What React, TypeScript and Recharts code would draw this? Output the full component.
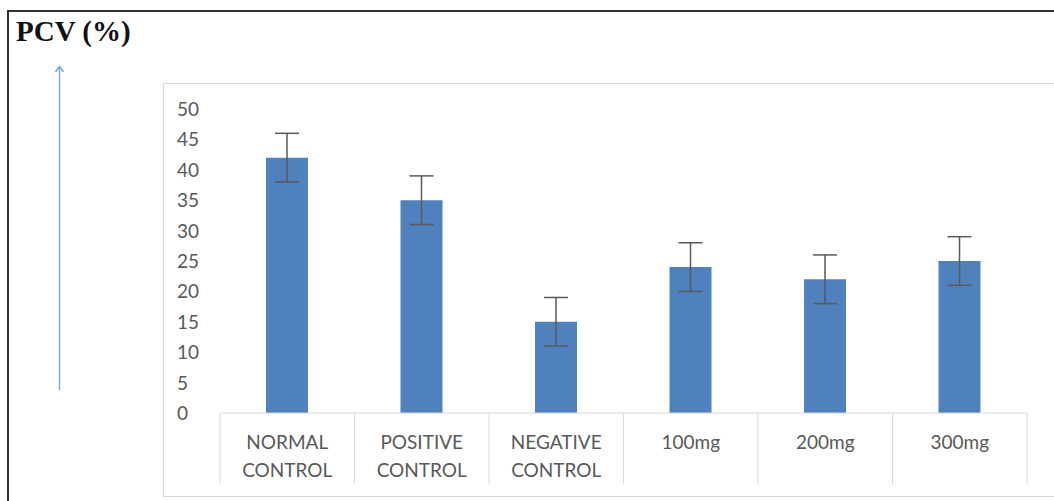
import React from "react";
import { BarChart, Bar, XAxis, YAxis, ErrorBar } from "recharts";

const groups = ["NORMAL CONTROL", "POSITIVE CONTROL", "NEGATIVE CONTROL", "100mg", "200mg", "300mg"];
const pcv = [42, 35, 15, 24, 22, 25];
const pcvErr = [4, 4, 4, 4, 4, 4];
const yTicks = [0, 5, 10, 15, 20, 25, 30, 35, 40, 45, 50];

const data = groups.map((g, i) => ({ group: g, pcv: pcv[i], err: pcvErr[i] }));

const CHART_W = 891;
const CHART_H = 413;
const margin = { top: 26, right: 27, left: 0, bottom: 0 };
const Y_W = 57;
const X_H = 83;
const band = (CHART_W - margin.right - Y_W) / groups.length;
const textColor = "#595959";
const font = "Lato, 'Open Sans', sans-serif";

function YTick(props: any) {
  const { y, payload } = props;
  return (
    <text x={14} y={y} dy={7} textAnchor="start" fill={textColor} fontSize={19} fontFamily={font}>
      {payload.value}
    </text>
  );
}

function XTick(props: any) {
  const { x, y, payload, index } = props;
  const words = String(payload.value).split(" ");
  const top = y - 8;
  return (
    <g>
      <line x1={x - band / 2} x2={x - band / 2} y1={top} y2={top + 71} stroke="#d9d9d9" />
      {index === groups.length - 1 && (
        <line x1={x + band / 2} x2={x + band / 2} y1={top} y2={top + 71} stroke="#d9d9d9" />
      )}
      <text x={x} y={top + 36} textAnchor="middle" fill={textColor} fontSize={19} fontFamily={font}>
        {words.map((w, i) => (
          <tspan key={i} x={x} dy={i === 0 ? 0 : 28}>
            {w}
          </tspan>
        ))}
      </text>
    </g>
  );
}

export default function App() {
  return (
    <div style={{ position: "fixed", left: 0, top: 0, width: 1054, height: 501, overflow: "hidden", background: "#fff" }}>
      <div
        style={{
          position: "absolute",
          left: 7,
          top: 10,
          width: 1200,
          height: 700,
          border: "2px solid #333",
        }}
      />
      <div
        style={{
          position: "absolute",
          left: 16,
          top: 15,
          fontFamily: "'Liberation Serif', 'Times New Roman', serif",
          fontWeight: "bold",
          fontSize: 29,
          color: "#111",
          whiteSpace: "nowrap",
        }}
      >
        PCV (%)
      </div>
      <svg style={{ position: "absolute", left: 50, top: 60 }} width={20} height={340}>
        <line x1={9.5} x2={9.5} y1={7} y2={330} stroke="#6fa8dc" strokeWidth={1.4} />
        <polyline points="5.5,12 9.5,6.5 13.5,12" fill="none" stroke="#6fa8dc" strokeWidth={1.4} />
      </svg>
      <div
        style={{
          position: "absolute",
          left: 163,
          top: 83,
          width: 1000,
          height: 412,
          border: "1px solid #d9d9d9",
        }}
      />
      <div style={{ position: "absolute", left: 163, top: 83 }}>
        <BarChart width={CHART_W} height={CHART_H} data={data} margin={margin} barSize={42}>
          <YAxis
            domain={[0, 50]}
            ticks={yTicks}
            width={Y_W}
            axisLine={false}
            tickLine={false}
            tick={<YTick />}
            interval={0}
          />
          <XAxis
            dataKey="group"
            height={X_H}
            axisLine={{ stroke: "#d9d9d9" }}
            tickLine={false}
            tick={<XTick />}
            interval={0}
          />
          <Bar dataKey="pcv" fill="#4f81bd" isAnimationActive={false}>
            <ErrorBar dataKey="err" width={12} stroke="#595959" strokeWidth={1.5} />
          </Bar>
        </BarChart>
      </div>
    </div>
  );
}
